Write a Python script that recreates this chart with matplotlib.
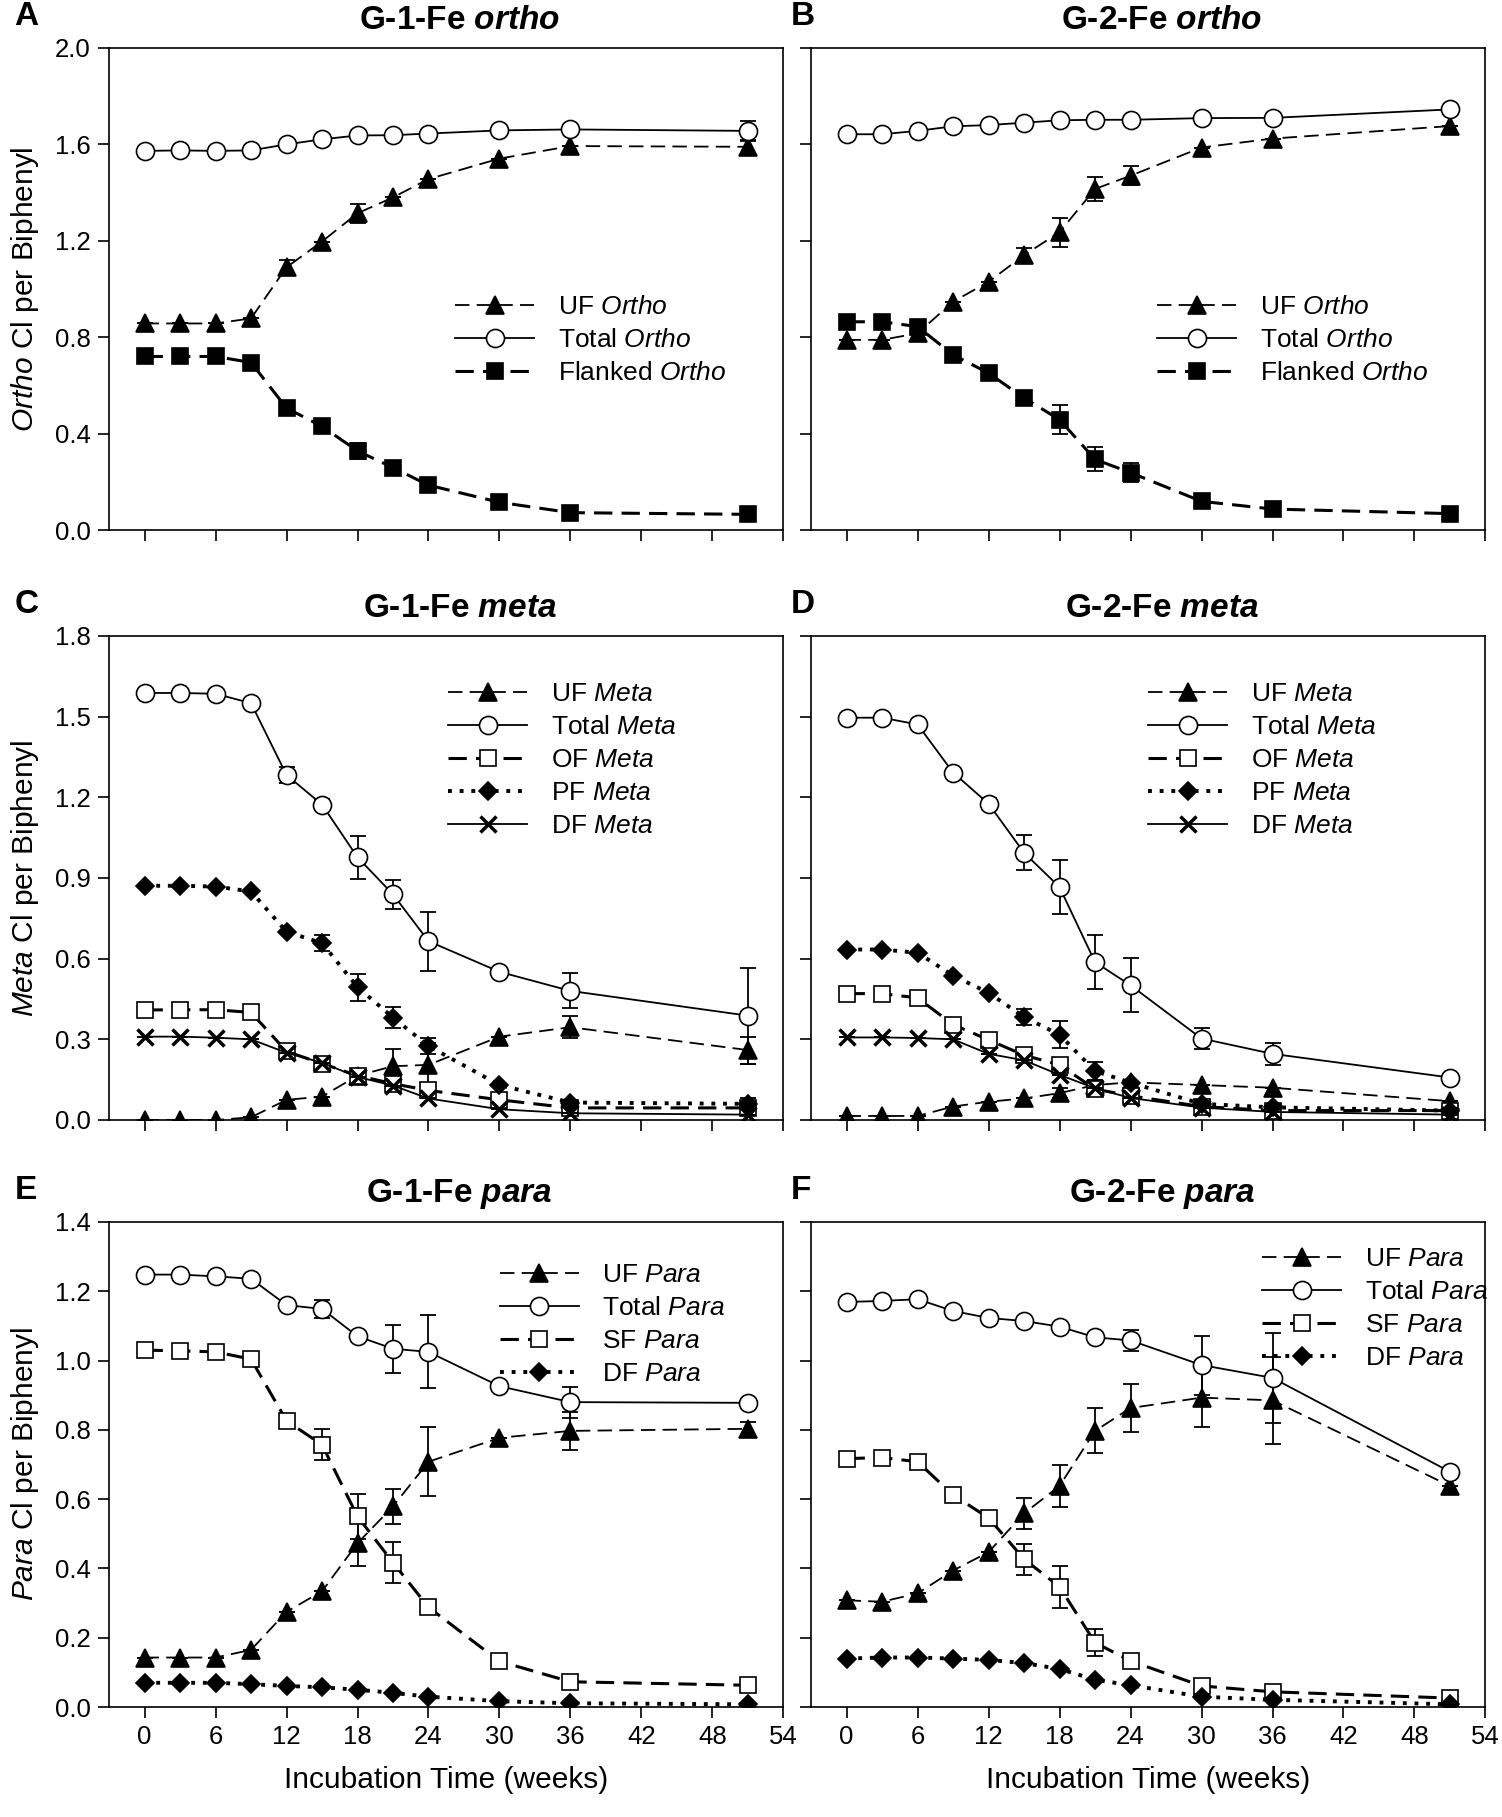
import matplotlib
matplotlib.use("Agg")
import matplotlib.pyplot as plt

plt.rcParams['font.family'] = ['Liberation Sans', 'DejaVu Sans']
plt.rcParams['mathtext.fontset'] = 'custom'
plt.rcParams['mathtext.rm'] = 'Liberation Sans'
plt.rcParams['mathtext.it'] = 'Liberation Sans:italic'
plt.rcParams['mathtext.bf'] = 'Liberation Sans:bold'
plt.rcParams['mathtext.bfit'] = 'Liberation Sans:italic:bold'

# incubation time points (weeks)
weeks = [0, 3, 6, 9, 12, 15, 18, 21, 24, 30, 36, 51]

# A: G-1-Fe ortho
a_uf = [0.857, 0.857, 0.857, 0.878, 1.09, 1.197, 1.314, 1.38, 1.456, 1.541, 1.593, 1.59]
a_uf_err = [0, 0, 0, 0, 0.03, 0, 0.04, 0, 0, 0, 0, 0.03]
a_total = [1.573, 1.575, 1.573, 1.575, 1.6, 1.621, 1.637, 1.638, 1.645, 1.658, 1.662, 1.656]
a_total_err = [0, 0, 0, 0, 0, 0, 0, 0, 0, 0, 0, 0.042]
a_flank = [0.72, 0.72, 0.72, 0.695, 0.506, 0.43, 0.328, 0.259, 0.186, 0.115, 0.072, 0.065]
a_flank_err = [0, 0, 0, 0, 0, 0, 0.035, 0, 0.01, 0, 0, 0]

# B: G-2-Fe ortho
b_uf = [0.789, 0.789, 0.816, 0.947, 1.03, 1.14, 1.236, 1.415, 1.47, 1.587, 1.624, 1.676]
b_uf_err = [0, 0, 0, 0, 0, 0.03, 0.06, 0.05, 0.04, 0, 0, 0]
b_total = [1.642, 1.642, 1.656, 1.675, 1.68, 1.69, 1.70, 1.702, 1.702, 1.709, 1.71, 1.745]
b_total_err = [0] * 12
b_flank = [0.864, 0.864, 0.844, 0.727, 0.651, 0.548, 0.458, 0.293, 0.238, 0.119, 0.087, 0.068]
b_flank_err = [0, 0, 0, 0, 0, 0, 0.06, 0.05, 0.04, 0, 0, 0]

# C: G-1-Fe meta
c_uf = [0.0, 0.0, 0.0, 0.01, 0.075, 0.087, 0.165, 0.2, 0.205, 0.31, 0.345, 0.26]
c_uf_err = [0, 0, 0, 0, 0, 0, 0, 0.065, 0.08, 0, 0.04, 0.05]
c_total = [1.588, 1.588, 1.585, 1.55, 1.283, 1.173, 0.977, 0.839, 0.665, 0.551, 0.48, 0.388]
c_total_err = [0, 0, 0, 0, 0.03, 0.02, 0.08, 0.055, 0.11, 0, 0.065, 0.178]
c_of = [0.409, 0.41, 0.41, 0.40, 0.255, 0.21, 0.165, 0.135, 0.11, 0.075, 0.045, 0.045]
c_of_err = [0] * 12
c_pf = [0.871, 0.871, 0.868, 0.85, 0.70, 0.658, 0.494, 0.381, 0.275, 0.13, 0.065, 0.06]
c_pf_err = [0, 0, 0, 0, 0, 0.03, 0.05, 0.04, 0.03, 0, 0, 0.02]
c_df = [0.31, 0.31, 0.306, 0.30, 0.25, 0.213, 0.16, 0.128, 0.08, 0.04, 0.025, 0.02]
c_df_err = [0] * 12

# D: G-2-Fe meta
d_uf = [0.015, 0.015, 0.015, 0.05, 0.068, 0.08, 0.1, 0.13, 0.14, 0.13, 0.12, 0.07]
d_uf_err = [0, 0, 0, 0, 0, 0, 0.02, 0.02, 0, 0, 0, 0]
d_total = [1.496, 1.496, 1.471, 1.292, 1.176, 0.994, 0.866, 0.587, 0.501, 0.303, 0.246, 0.158]
d_total_err = [0, 0, 0, 0, 0.02, 0.065, 0.1, 0.1, 0.1, 0.04, 0.04, 0]
d_of = [0.47, 0.47, 0.454, 0.355, 0.298, 0.241, 0.205, 0.115, 0.09, 0.05, 0.035, 0.035]
d_of_err = [0] * 12
d_pf = [0.634, 0.634, 0.622, 0.537, 0.473, 0.383, 0.317, 0.182, 0.139, 0.06, 0.047, 0.035]
d_pf_err = [0, 0, 0, 0, 0, 0.03, 0.05, 0.035, 0, 0, 0, 0]
d_df = [0.307, 0.307, 0.305, 0.30, 0.246, 0.222, 0.168, 0.118, 0.082, 0.046, 0.03, 0.02]
d_df_err = [0] * 12

# E: G-1-Fe para
e_uf = [0.143, 0.143, 0.143, 0.165, 0.275, 0.334, 0.473, 0.579, 0.708, 0.777, 0.797, 0.803]
e_uf_err = [0, 0, 0, 0, 0, 0, 0.065, 0.05, 0.1, 0, 0.055, 0.02]
e_total = [1.248, 1.248, 1.243, 1.236, 1.16, 1.149, 1.07, 1.034, 1.025, 0.926, 0.88, 0.878]
e_total_err = [0, 0, 0, 0, 0, 0.025, 0, 0.07, 0.105, 0, 0.045, 0]
e_sf = [1.03, 1.028, 1.025, 1.004, 0.826, 0.757, 0.55, 0.417, 0.288, 0.132, 0.073, 0.063]
e_sf_err = [0, 0, 0, 0, 0.02, 0.045, 0.065, 0.06, 0, 0, 0, 0]
e_df = [0.07, 0.07, 0.07, 0.066, 0.061, 0.057, 0.05, 0.041, 0.03, 0.017, 0.011, 0.008]
e_df_err = [0] * 12

# F: G-2-Fe para
f_uf = [0.308, 0.304, 0.328, 0.394, 0.447, 0.559, 0.638, 0.797, 0.863, 0.893, 0.885, 0.638]
f_uf_err = [0, 0, 0, 0, 0, 0.045, 0.06, 0.065, 0.07, 0.085, 0.125, 0]
f_total = [1.169, 1.172, 1.177, 1.143, 1.123, 1.114, 1.098, 1.067, 1.058, 0.987, 0.95, 0.679]
f_total_err = [0, 0, 0, 0, 0, 0, 0, 0, 0.03, 0.085, 0.13, 0]
f_sf = [0.717, 0.72, 0.708, 0.612, 0.546, 0.427, 0.347, 0.186, 0.133, 0.061, 0.044, 0.026]
f_sf_err = [0, 0, 0, 0, 0.02, 0.045, 0.06, 0.04, 0.02, 0, 0, 0]
f_df = [0.14, 0.143, 0.143, 0.14, 0.136, 0.127, 0.11, 0.079, 0.063, 0.03, 0.021, 0.008]
f_df_err = [0] * 12

# line/marker styles per kind of series
STY = {
    'uf': dict(marker='^', mfc='black', ls=(0, (8, 4)), lw=1.3, ms=13),
    'total': dict(marker='o', mfc='white', ls='-', lw=1.3, ms=13),
    'flank': dict(marker='s', mfc='black', ls=(0, (6, 3)), lw=2.2, ms=11),
    'open_sq': dict(marker='s', mfc='white', ls=(0, (6, 3)), lw=2.2, ms=11),
    'dia': dict(marker='D', mfc='black', ls=(0, (1, 2)), lw=2.8, ms=9),
    'x': dict(marker='x', mfc='black', ls='-', lw=1.3, ms=11, mew=2.5),
}

fig = plt.figure(figsize=(15.02, 18.17), dpi=100)

W = 0.449
lefts = [0.0726, 0.540]
rows = [(0.7083, 0.2653), (0.3836, 0.2664), (0.0605, 0.2670)]


def draw(ax, series, ymax, ystep, ylab, title, letter, leg_xy, first_col, bottom_row):
    handles = []
    for key, y, err, label in series:
        s = dict(STY[key])
        mew = s.pop('mew', 1.2)
        ax.errorbar(weeks, y, yerr=err, fmt='none', ecolor='black',
                    capsize=6, elinewidth=1.3, capthick=1.3)
        ln, = ax.plot(weeks, y, color='black', mec='black', mew=mew, label=label, **s)
        handles.append(ln)
    ax.set_xlim(-3, 54)
    ax.set_ylim(0, ymax)
    ax.set_xticks(range(0, 55, 6))
    n = int(round(ymax / ystep))
    ax.set_yticks([i * ystep for i in range(n + 1)])
    ax.tick_params(direction='out', length=8, width=1.2, labelsize=18.5, pad=5,
                   top=False, right=False)
    if first_col:
        ax.set_yticklabels(['%.1f' % (i * ystep) for i in range(n + 1)])
        ax.set_ylabel(ylab, fontsize=21.5, labelpad=10)
    else:
        ax.set_yticklabels([])
    if bottom_row:
        ax.set_xlabel('Incubation Time (weeks)', fontsize=21.5, labelpad=12)
    else:
        ax.set_xticklabels([])
    for sp in ax.spines.values():
        sp.set_linewidth(1.2)
    ax.set_title(title, fontsize=24, fontweight='bold', pad=14, x=0.52)
    ax.text(-0.14 if first_col else -0.03, 1.065, letter, transform=ax.transAxes,
            fontsize=24, fontweight='bold', ha='left', va='center')
    ax.legend(handles=handles, loc='upper left', bbox_to_anchor=leg_xy, frameon=False,
              fontsize=19, numpoints=1, handlelength=3.0, handletextpad=0.9,
              labelspacing=0.34, borderpad=0, borderaxespad=0)


panels = [
    ([('uf', a_uf, a_uf_err, r'UF $\mathit{Ortho}$'),
      ('total', a_total, a_total_err, r'Total $\mathit{Ortho}$'),
      ('flank', a_flank, a_flank_err, r'Flanked $\mathit{Ortho}$')],
     2.0, 0.4, r'$\mathit{Ortho}$ Cl per Biphenyl', r'G-1-Fe $\mathbfit{ortho}$', 'A', (0.513, 0.487)),
    ([('uf', b_uf, b_uf_err, r'UF $\mathit{Ortho}$'),
      ('total', b_total, b_total_err, r'Total $\mathit{Ortho}$'),
      ('flank', b_flank, b_flank_err, r'Flanked $\mathit{Ortho}$')],
     2.0, 0.4, '', r'G-2-Fe $\mathbfit{ortho}$', 'B', (0.513, 0.487)),
    ([('uf', c_uf, c_uf_err, r'UF $\mathit{Meta}$'),
      ('total', c_total, c_total_err, r'Total $\mathit{Meta}$'),
      ('open_sq', c_of, c_of_err, r'OF $\mathit{Meta}$'),
      ('dia', c_pf, c_pf_err, r'PF $\mathit{Meta}$'),
      ('x', c_df, c_df_err, r'DF $\mathit{Meta}$')],
     1.8, 0.3, r'$\mathit{Meta}$ Cl per Biphenyl', r'G-1-Fe $\mathbfit{meta}$', 'C', (0.503, 0.905)),
    ([('uf', d_uf, d_uf_err, r'UF $\mathit{Meta}$'),
      ('total', d_total, d_total_err, r'Total $\mathit{Meta}$'),
      ('open_sq', d_of, d_of_err, r'OF $\mathit{Meta}$'),
      ('dia', d_pf, d_pf_err, r'PF $\mathit{Meta}$'),
      ('x', d_df, d_df_err, r'DF $\mathit{Meta}$')],
     1.8, 0.3, '', r'G-2-Fe $\mathbfit{meta}$', 'D', (0.50, 0.905)),
    ([('uf', e_uf, e_uf_err, r'UF $\mathit{Para}$'),
      ('total', e_total, e_total_err, r'Total $\mathit{Para}$'),
      ('open_sq', e_sf, e_sf_err, r'SF $\mathit{Para}$'),
      ('dia', e_df, e_df_err, r'DF $\mathit{Para}$')],
     1.4, 0.2, r'$\mathit{Para}$ Cl per Biphenyl', r'G-1-Fe $\mathbfit{para}$', 'E', (0.579, 0.915)),
    ([('uf', f_uf, f_uf_err, r'UF $\mathit{Para}$'),
      ('total', f_total, f_total_err, r'Total $\mathit{Para}$'),
      ('open_sq', f_sf, f_sf_err, r'SF $\mathit{Para}$'),
      ('dia', f_df, f_df_err, r'DF $\mathit{Para}$')],
     1.4, 0.2, '', r'G-2-Fe $\mathbfit{para}$', 'F', (0.669, 0.948)),
]

for i, (series, ymax, ystep, ylab, title, letter, leg_xy) in enumerate(panels):
    r, c = divmod(i, 2)
    b, h = rows[r]
    ax = fig.add_axes([lefts[c], b, W, h])
    draw(ax, series, ymax, ystep, ylab, title, letter, leg_xy, c == 0, r == 2)

fig.savefig('out.png', dpi=100)
